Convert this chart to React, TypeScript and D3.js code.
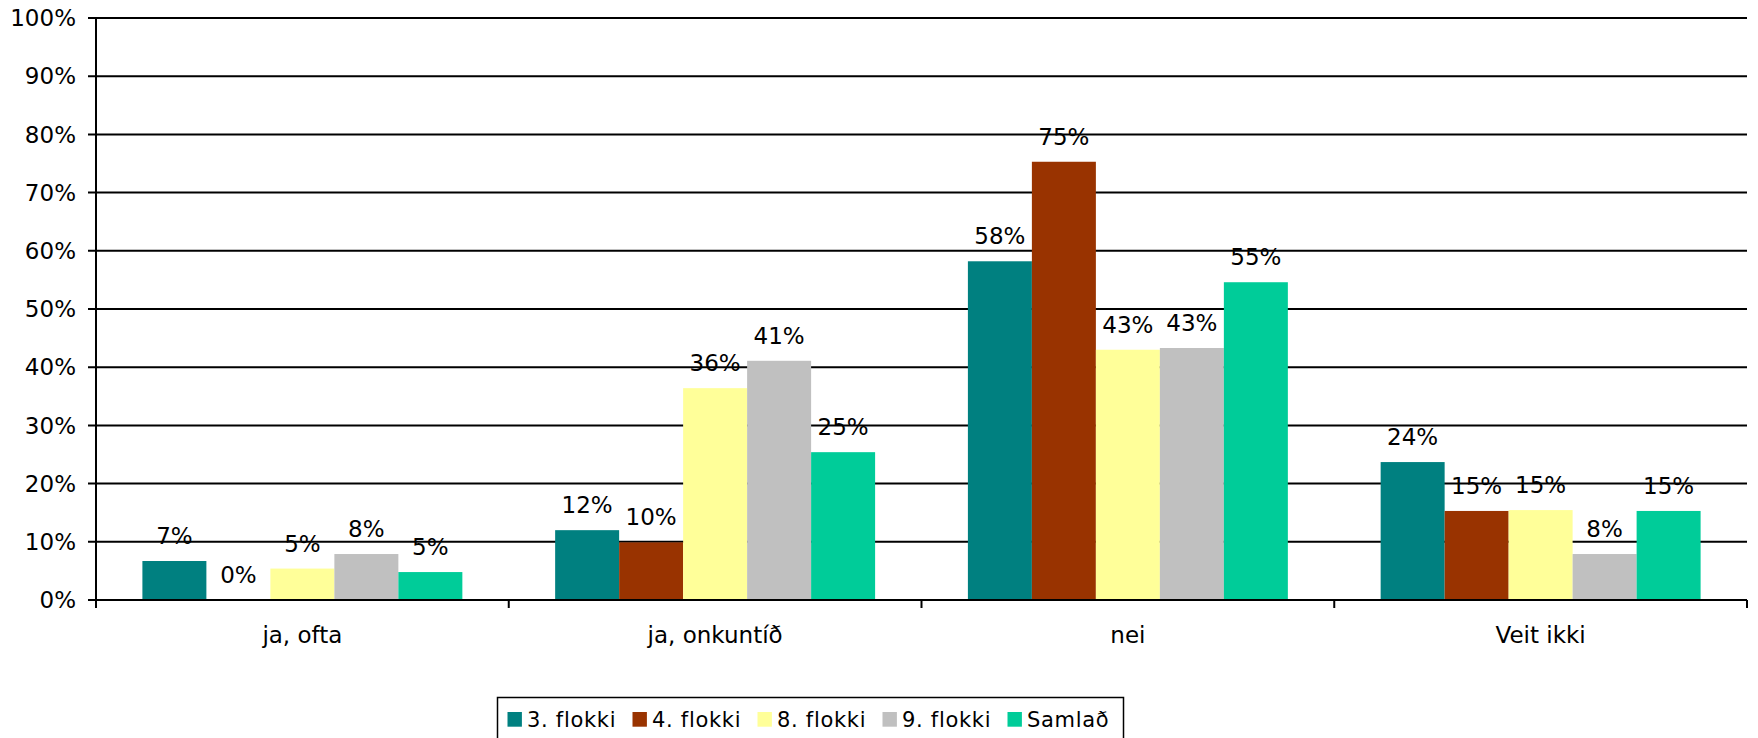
import React from "react";
import * as d3 from "d3";

const categories = ["ja, ofta", "ja, onkuntíð", "nei", "Veit ikki"];
const seriesNames = ["3. flokki", "4. flokki", "8. flokki", "9. flokki", "Samlað"];
const seriesColors = ["#008080", "#993300", "#FFFF99", "#C0C0C0", "#00CC99"];
const flokki3 = [6.7, 12.0, 58.2, 23.7];
const flokki4 = [0, 9.9, 75.3, 15.3];
const flokki8 = [5.4, 36.4, 43.0, 15.45];
const flokki9 = [7.9, 41.1, 43.3, 7.9];
const samlad = [4.8, 25.4, 54.6, 15.3];
const seriesValues = [flokki3, flokki4, flokki8, flokki9, samlad];
const yTicks = [0, 10, 20, 30, 40, 50, 60, 70, 80, 90, 100];

const W = 1758;
const H = 738;
const left = 96;
const right = 1747;
const top = 18;
const bottom = 600;
const font = "'DejaVu Sans', Verdana, sans-serif";

export default function App() {
  const x = d3.scaleBand<string>().domain(categories).range([left, right]).paddingInner(0).paddingOuter(0);
  const bw = x.bandwidth();
  const barW = bw / 6.45;
  const groupPad = (bw - barW * 5) / 2;
  const xs = d3.scaleBand<string>().domain(seriesNames).range([groupPad, bw - groupPad]).padding(0);
  const y = d3.scaleLinear().domain([0, 100]).range([bottom, top]);

  const legendX = 497.5;
  const legendY = 697.5;
  const itemStep = 125;

  return (
    <svg width={W} height={H} style={{ position: "absolute", left: 0, top: 0, background: "#fff" }}>
      <rect x={0} y={0} width={W} height={H} fill="#fff" />
      {yTicks.map((t) => (
        <g key={t}>
          <line x1={left - 8} x2={right} y1={y(t)} y2={y(t)} stroke="#000" strokeWidth={2} />
          <text x={76} y={y(t)} dy="0.36em" textAnchor="end" fontFamily={font} fontSize={23} fill="#000">
            {t}%
          </text>
        </g>
      ))}
      {seriesValues.map((vals, si) =>
        vals.map((v, ci) => {
          const bx = (x(categories[ci]) as number) + (xs(seriesNames[si]) as number);
          return (
            <g key={`${si}-${ci}`}>
              {v > 0 && (
                <rect x={bx} y={y(v)} width={xs.bandwidth()} height={bottom - y(v)} fill={seriesColors[si]} />
              )}
              <text
                x={bx + xs.bandwidth() / 2}
                y={y(v) - 17}
                textAnchor="middle"
                fontFamily={font}
                fontSize={23}
                fill="#000"
              >
                {Math.round(v)}%
              </text>
            </g>
          );
        })
      )}
      <line x1={left} x2={left} y1={top} y2={bottom} stroke="#000" strokeWidth={2} />
      <line x1={left} x2={right} y1={bottom} y2={bottom} stroke="#000" strokeWidth={2} />
      {[...categories.map((c) => x(c) as number), right].map((tx, i) => (
        <line key={i} x1={tx} x2={tx} y1={bottom} y2={bottom + 8} stroke="#000" strokeWidth={2} />
      ))}
      {categories.map((c) => (
        <text
          key={c}
          x={(x(c) as number) + bw / 2}
          y={643}
          textAnchor="middle"
          fontFamily={font}
          fontSize={23}
          fill="#000"
        >
          {c}
        </text>
      ))}
      <rect x={legendX} y={legendY} width={626} height={60} fill="#fff" stroke="#000" strokeWidth={1.5} />
      {seriesNames.map((s, i) => (
        <g key={s}>
          <rect x={507.5 + i * itemStep} y={712} width={14.4} height={14.7} fill={seriesColors[i]} />
          <text
            x={527 + i * itemStep}
            y={726.5}
            fontFamily={font}
            fontSize={21}
            letterSpacing={0.7}
            fill="#000"
          >
            {s}
          </text>
        </g>
      ))}
    </svg>
  );
}
